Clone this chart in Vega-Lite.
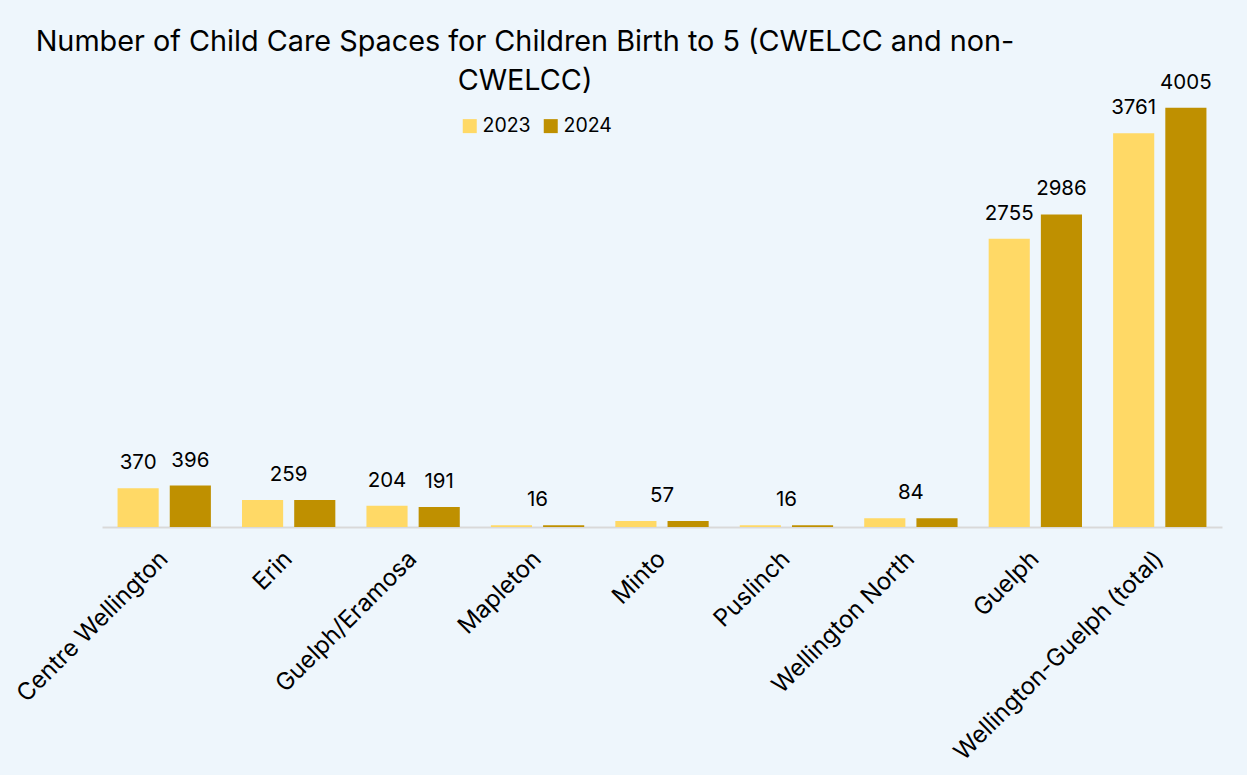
{
  "$schema": "https://vega.github.io/schema/vega-lite/v6.json",
  "autosize": {"type": "none"},
  "padding": {"left": 102, "top": 56, "right": 25, "bottom": 248},
  "width": 1120,
  "height": 471,
  "background": "#EEF6FC",
  "config": {
    "view": {"stroke": null},
    "font": "Inter"
  },
  "title": {
    "text": ["Number of Child Care Spaces for Children Birth to 5 (CWELCC and non-", "CWELCC)"],
    "font": "Inter",
    "fontSize": 28.8,
    "fontWeight": "normal",
    "color": "#000000",
    "anchor": "middle",
    "frame": "group",
    "align": "center",
    "baseline": "alphabetic",
    "lineHeight": 39,
    "offset": 0,
    "dx": -137,
    "dy": 63
  },
  "data": {
    "values": [
      {"region": "Centre Wellington", "year": "2023", "value": 370},
      {"region": "Centre Wellington", "year": "2024", "value": 396},
      {"region": "Erin", "year": "2023", "value": 259},
      {"region": "Erin", "year": "2024", "value": 259},
      {"region": "Guelph/Eramosa", "year": "2023", "value": 204},
      {"region": "Guelph/Eramosa", "year": "2024", "value": 191},
      {"region": "Mapleton", "year": "2023", "value": 16},
      {"region": "Mapleton", "year": "2024", "value": 16},
      {"region": "Minto", "year": "2023", "value": 57},
      {"region": "Minto", "year": "2024", "value": 57},
      {"region": "Puslinch", "year": "2023", "value": 16},
      {"region": "Puslinch", "year": "2024", "value": 16},
      {"region": "Wellington North", "year": "2023", "value": 84},
      {"region": "Wellington North", "year": "2024", "value": 84},
      {"region": "Guelph", "year": "2023", "value": 2755},
      {"region": "Guelph", "year": "2024", "value": 2986},
      {"region": "Wellington-Guelph (total)", "year": "2023", "value": 3761},
      {"region": "Wellington-Guelph (total)", "year": "2024", "value": 4005}
    ]
  },
  "encoding": {
    "x": {
      "field": "region",
      "type": "nominal",
      "sort": null,
      "scale": {"paddingInner": 0.25, "paddingOuter": 0.125},
      "axis": {
        "title": null,
        "labelAngle": -45,
        "labelAlign": "right",
        "labelBaseline": "middle",
        "labelFont": "Inter",
        "labelFontSize": 24,
        "labelColor": "#000000",
        "labelPadding": 28,
        "labelLimit": 400,
        "ticks": false,
        "domainColor": "#D9D9D9",
        "domainWidth": 2
      }
    },
    "y": {
      "field": "value",
      "type": "quantitative",
      "scale": {"domain": [0, 4500]},
      "axis": null
    }
  },
  "layer": [
    {
      "mark": {"type": "bar"},
      "encoding": {
        "xOffset": {"field": "year", "type": "nominal", "scale": {"paddingInner": 0.212, "paddingOuter": 0}},
        "color": {
          "field": "year",
          "type": "nominal",
          "scale": {"domain": ["2023", "2024"], "range": ["#FFD966", "#BF9000"]},
          "legend": {
            "title": null,
            "orient": "none",
            "legendX": 358,
            "legendY": 60,
            "direction": "horizontal",
            "symbolType": "square",
            "symbolSize": 196,
            "symbolStrokeWidth": 0,
            "symbolOpacity": 1,
            "labelFont": "Inter",
            "labelFontSize": 19.5,
            "labelColor": "#000000",
            "labelOffset": 3,
            "columnPadding": 10
          }
        }
      }
    },
    {
      "transform": [
        {"joinaggregate": [{"op": "min", "field": "value", "as": "mn"}, {"op": "max", "field": "value", "as": "mx"}], "groupby": ["region"]},
        {"filter": "datum.mn != datum.mx"}
      ],
      "mark": {"type": "text", "baseline": "alphabetic", "dy": -19, "fontSize": 20.5, "font": "Inter", "color": "#000000"},
      "encoding": {
        "xOffset": {"field": "year", "type": "nominal"},
        "text": {"field": "value", "type": "quantitative", "format": "d"}
      }
    },
    {
      "transform": [
        {"joinaggregate": [{"op": "min", "field": "value", "as": "mn"}, {"op": "max", "field": "value", "as": "mx"}], "groupby": ["region"]},
        {"filter": "datum.mn == datum.mx && datum.year == '2024'"}
      ],
      "mark": {"type": "text", "baseline": "alphabetic", "dy": -19, "fontSize": 20.5, "font": "Inter", "color": "#000000"},
      "encoding": {
        "text": {"field": "value", "type": "quantitative", "format": "d"}
      }
    }
  ]
}
